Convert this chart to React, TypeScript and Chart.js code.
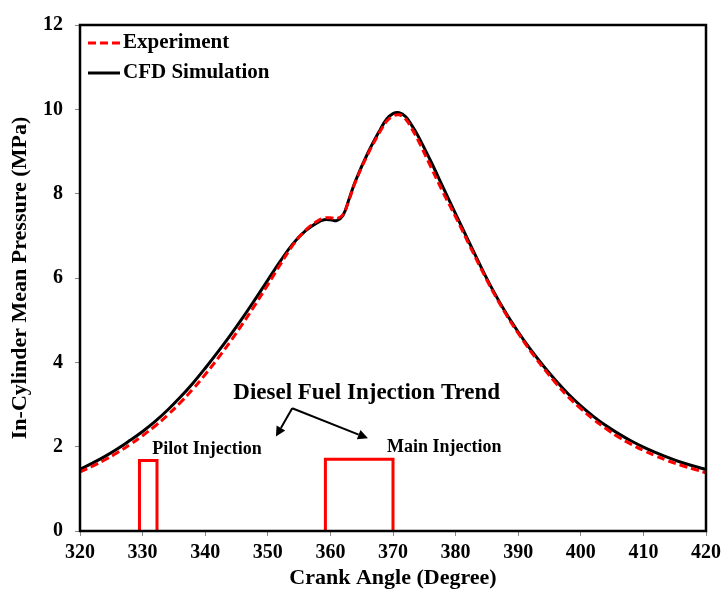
import React, { useEffect, useRef } from 'react';
import { Chart, registerables } from 'chart.js';
Chart.register(...registerables);

const crankAngle = [320, 322, 324, 326, 328, 330, 332, 334, 336, 338, 340, 342, 344, 346, 348, 350, 352, 354, 356, 358, 359, 360, 361, 362, 363, 364, 366, 368, 369, 370, 371, 372, 373, 374, 376, 378, 380, 382, 384, 386, 388, 390, 392, 394, 396, 398, 400, 402, 404, 406, 408, 410, 412, 414, 416, 418, 420];
const cfdPressure = [1.46, 1.61, 1.77, 1.95, 2.15, 2.36, 2.6, 2.87, 3.17, 3.5, 3.86, 4.24, 4.64, 5.06, 5.5, 5.95, 6.4, 6.81, 7.12, 7.32, 7.38, 7.38, 7.36, 7.48, 7.88, 8.3, 8.97, 9.53, 9.77, 9.9, 9.92, 9.83, 9.62, 9.37, 8.78, 8.15, 7.52, 6.9, 6.28, 5.7, 5.18, 4.72, 4.3, 3.92, 3.57, 3.25, 2.97, 2.72, 2.5, 2.31, 2.14, 1.99, 1.86, 1.74, 1.63, 1.54, 1.46];
const expPressure = [1.4, 1.54, 1.69, 1.86, 2.05, 2.26, 2.49, 2.75, 3.04, 3.36, 3.71, 4.09, 4.49, 4.92, 5.37, 5.84, 6.32, 6.78, 7.13, 7.36, 7.42, 7.43, 7.41, 7.5, 7.86, 8.28, 8.94, 9.49, 9.72, 9.84, 9.87, 9.77, 9.54, 9.27, 8.65, 8.03, 7.45, 6.84, 6.24, 5.67, 5.15, 4.69, 4.26, 3.87, 3.51, 3.18, 2.9, 2.65, 2.43, 2.23, 2.06, 1.91, 1.78, 1.66, 1.56, 1.47, 1.38];

const injectionAngle = [329.5, 329.5, 332.3, 332.3, 345, 359.2, 359.2, 370.0, 370.0];
const injectionLevel = [0, 1.67, 1.67, 0, null, 0, 1.7, 1.7, 0];

const xTicks = [320, 330, 340, 350, 360, 370, 380, 390, 400, 410, 420];
const yTicks = [0, 2, 4, 6, 8, 10, 12];

const legendLabels = ['Experiment', 'CFD Simulation'];
const annotationTitle = { text: 'Diesel Fuel Injection Trend', x: 365.8, y: 3.27 };
const annotationPilot = { text: 'Pilot Injection', x: 340.3, y: 1.94 };
const annotationMain = { text: 'Main Injection', x: 378.2, y: 1.98 };
const arrowStart = { x: 353.9, y: 2.91 };
const arrowEnds = [{ x: 351.3, y: 2.24 }, { x: 366.0, y: 2.2 }];

const FONT = '"Liberation Serif", "Times New Roman", serif';

const overlayPlugin = {
  id: 'overlay',
  afterDatasetsDraw(chart: any) {
    const { ctx, chartArea, scales } = chart;
    const xs = scales.x;
    const ys = scales.y;
    ctx.save();
    // frame
    ctx.strokeStyle = '#000';
    ctx.lineWidth = 2.5;
    ctx.strokeRect(chartArea.left, chartArea.top, chartArea.right - chartArea.left, chartArea.bottom - chartArea.top);

    // legend
    const lx0 = chartArea.left + 8;
    const lx1 = chartArea.left + 40;
    const ly = [chartArea.top + 18, chartArea.top + 48];
    ctx.lineWidth = 3;
    ctx.strokeStyle = '#ff0000';
    ctx.setLineDash([8, 4]);
    ctx.beginPath();
    ctx.moveTo(lx0, ly[0]);
    ctx.lineTo(lx1, ly[0]);
    ctx.stroke();
    ctx.setLineDash([]);
    ctx.strokeStyle = '#000';
    ctx.beginPath();
    ctx.moveTo(lx0, ly[1]);
    ctx.lineTo(lx1, ly[1]);
    ctx.stroke();
    ctx.fillStyle = '#000';
    ctx.font = 'bold 21px ' + FONT;
    ctx.textAlign = 'left';
    ctx.textBaseline = 'middle';
    ctx.fillText(legendLabels[0], lx1 + 3, ly[0]);
    ctx.fillText(legendLabels[1], lx1 + 3, ly[1]);

    // annotations
    ctx.textAlign = 'center';
    ctx.font = 'bold 23px ' + FONT;
    ctx.fillText(annotationTitle.text, xs.getPixelForValue(annotationTitle.x), ys.getPixelForValue(annotationTitle.y));
    ctx.font = 'bold 18px ' + FONT;
    ctx.fillText(annotationPilot.text, xs.getPixelForValue(annotationPilot.x), ys.getPixelForValue(annotationPilot.y));
    ctx.fillText(annotationMain.text, xs.getPixelForValue(annotationMain.x), ys.getPixelForValue(annotationMain.y));

    // arrows
    const sx = xs.getPixelForValue(arrowStart.x);
    const sy = ys.getPixelForValue(arrowStart.y);
    ctx.lineWidth = 2;
    ctx.strokeStyle = '#000';
    arrowEnds.forEach((e) => {
      const ex = xs.getPixelForValue(e.x);
      const ey = ys.getPixelForValue(e.y);
      const ang = Math.atan2(ey - sy, ex - sx);
      const head = 10;
      const bx = ex - head * Math.cos(ang);
      const by = ey - head * Math.sin(ang);
      ctx.beginPath();
      ctx.moveTo(sx, sy);
      ctx.lineTo(bx, by);
      ctx.stroke();
      ctx.beginPath();
      ctx.moveTo(ex, ey);
      ctx.lineTo(bx + 5 * Math.sin(ang), by - 5 * Math.cos(ang));
      ctx.lineTo(bx - 5 * Math.sin(ang), by + 5 * Math.cos(ang));
      ctx.closePath();
      ctx.fill();
    });
    ctx.restore();
  },
};

export default function App() {
  const canvasRef = useRef<HTMLCanvasElement | null>(null);

  useEffect(() => {
    document.body.style.margin = '0';
    const canvas = canvasRef.current;
    if (!canvas) return;
    const chart = new Chart(canvas, {
      type: 'line',
      data: {
        datasets: [
          {
            label: 'Injection',
            data: injectionAngle.map((x, i) => ({ x, y: injectionLevel[i] })),
            borderColor: '#ff0000',
            borderWidth: 3,
            pointRadius: 0,
            spanGaps: false,
            tension: 0,
          },
          {
            label: 'Experiment',
            data: crankAngle.map((x, i) => ({ x, y: expPressure[i] })),
            borderColor: '#ff0000',
            borderWidth: 3,
            borderDash: [8, 4],
            pointRadius: 0,
            tension: 0.4,
          },
          {
            label: 'CFD Simulation',
            data: crankAngle.map((x, i) => ({ x, y: cfdPressure[i] })),
            borderColor: '#000000',
            borderWidth: 3,
            pointRadius: 0,
            tension: 0.4,
          },
        ],
      },
      options: {
        responsive: false,
        animation: false,
        layout: { padding: { top: 25, right: 17, left: 0, bottom: 0 } },
        plugins: { legend: { display: false }, tooltip: { enabled: false } },
        scales: {
          x: {
            type: 'linear',
            min: 320,
            max: 420,
            afterFit: (s: any) => { s.height = 61; },
            afterBuildTicks: (s: any) => { s.ticks = xTicks.map((v) => ({ value: v })); },
            ticks: { color: '#000', font: { family: FONT, size: 20, weight: 'bold' }, padding: 5, maxRotation: 0 },
            grid: { drawOnChartArea: false, drawTicks: true, tickLength: 5, color: '#888' },
            border: { display: false },
            title: { display: true, text: 'Crank Angle (Degree)', color: '#000', font: { family: FONT, size: 22, weight: 'bold' }, padding: { top: 0, bottom: 0 } },
          },
          y: {
            type: 'linear',
            min: 0,
            max: 12,
            afterFit: (s: any) => { s.width = 80; },
            afterBuildTicks: (s: any) => { s.ticks = yTicks.map((v) => ({ value: v })); },
            ticks: { color: '#000', font: { family: FONT, size: 20, weight: 'bold' }, padding: 12 },
            grid: { drawOnChartArea: false, drawTicks: true, tickLength: 5, color: '#888' },
            border: { display: false },
            title: { display: true, text: 'In-Cylinder Mean Pressure (MPa)', color: '#000', font: { family: FONT, size: 22, weight: 'bold' }, padding: { top: 7, bottom: 0 } },
          },
        },
      },
      plugins: [overlayPlugin],
    } as any);
    return () => chart.destroy();
  }, []);

  return (
    <div style={{ width: 726, height: 592, background: '#fff' }}>
      <canvas ref={canvasRef} width={726} height={592} />
    </div>
  );
}
